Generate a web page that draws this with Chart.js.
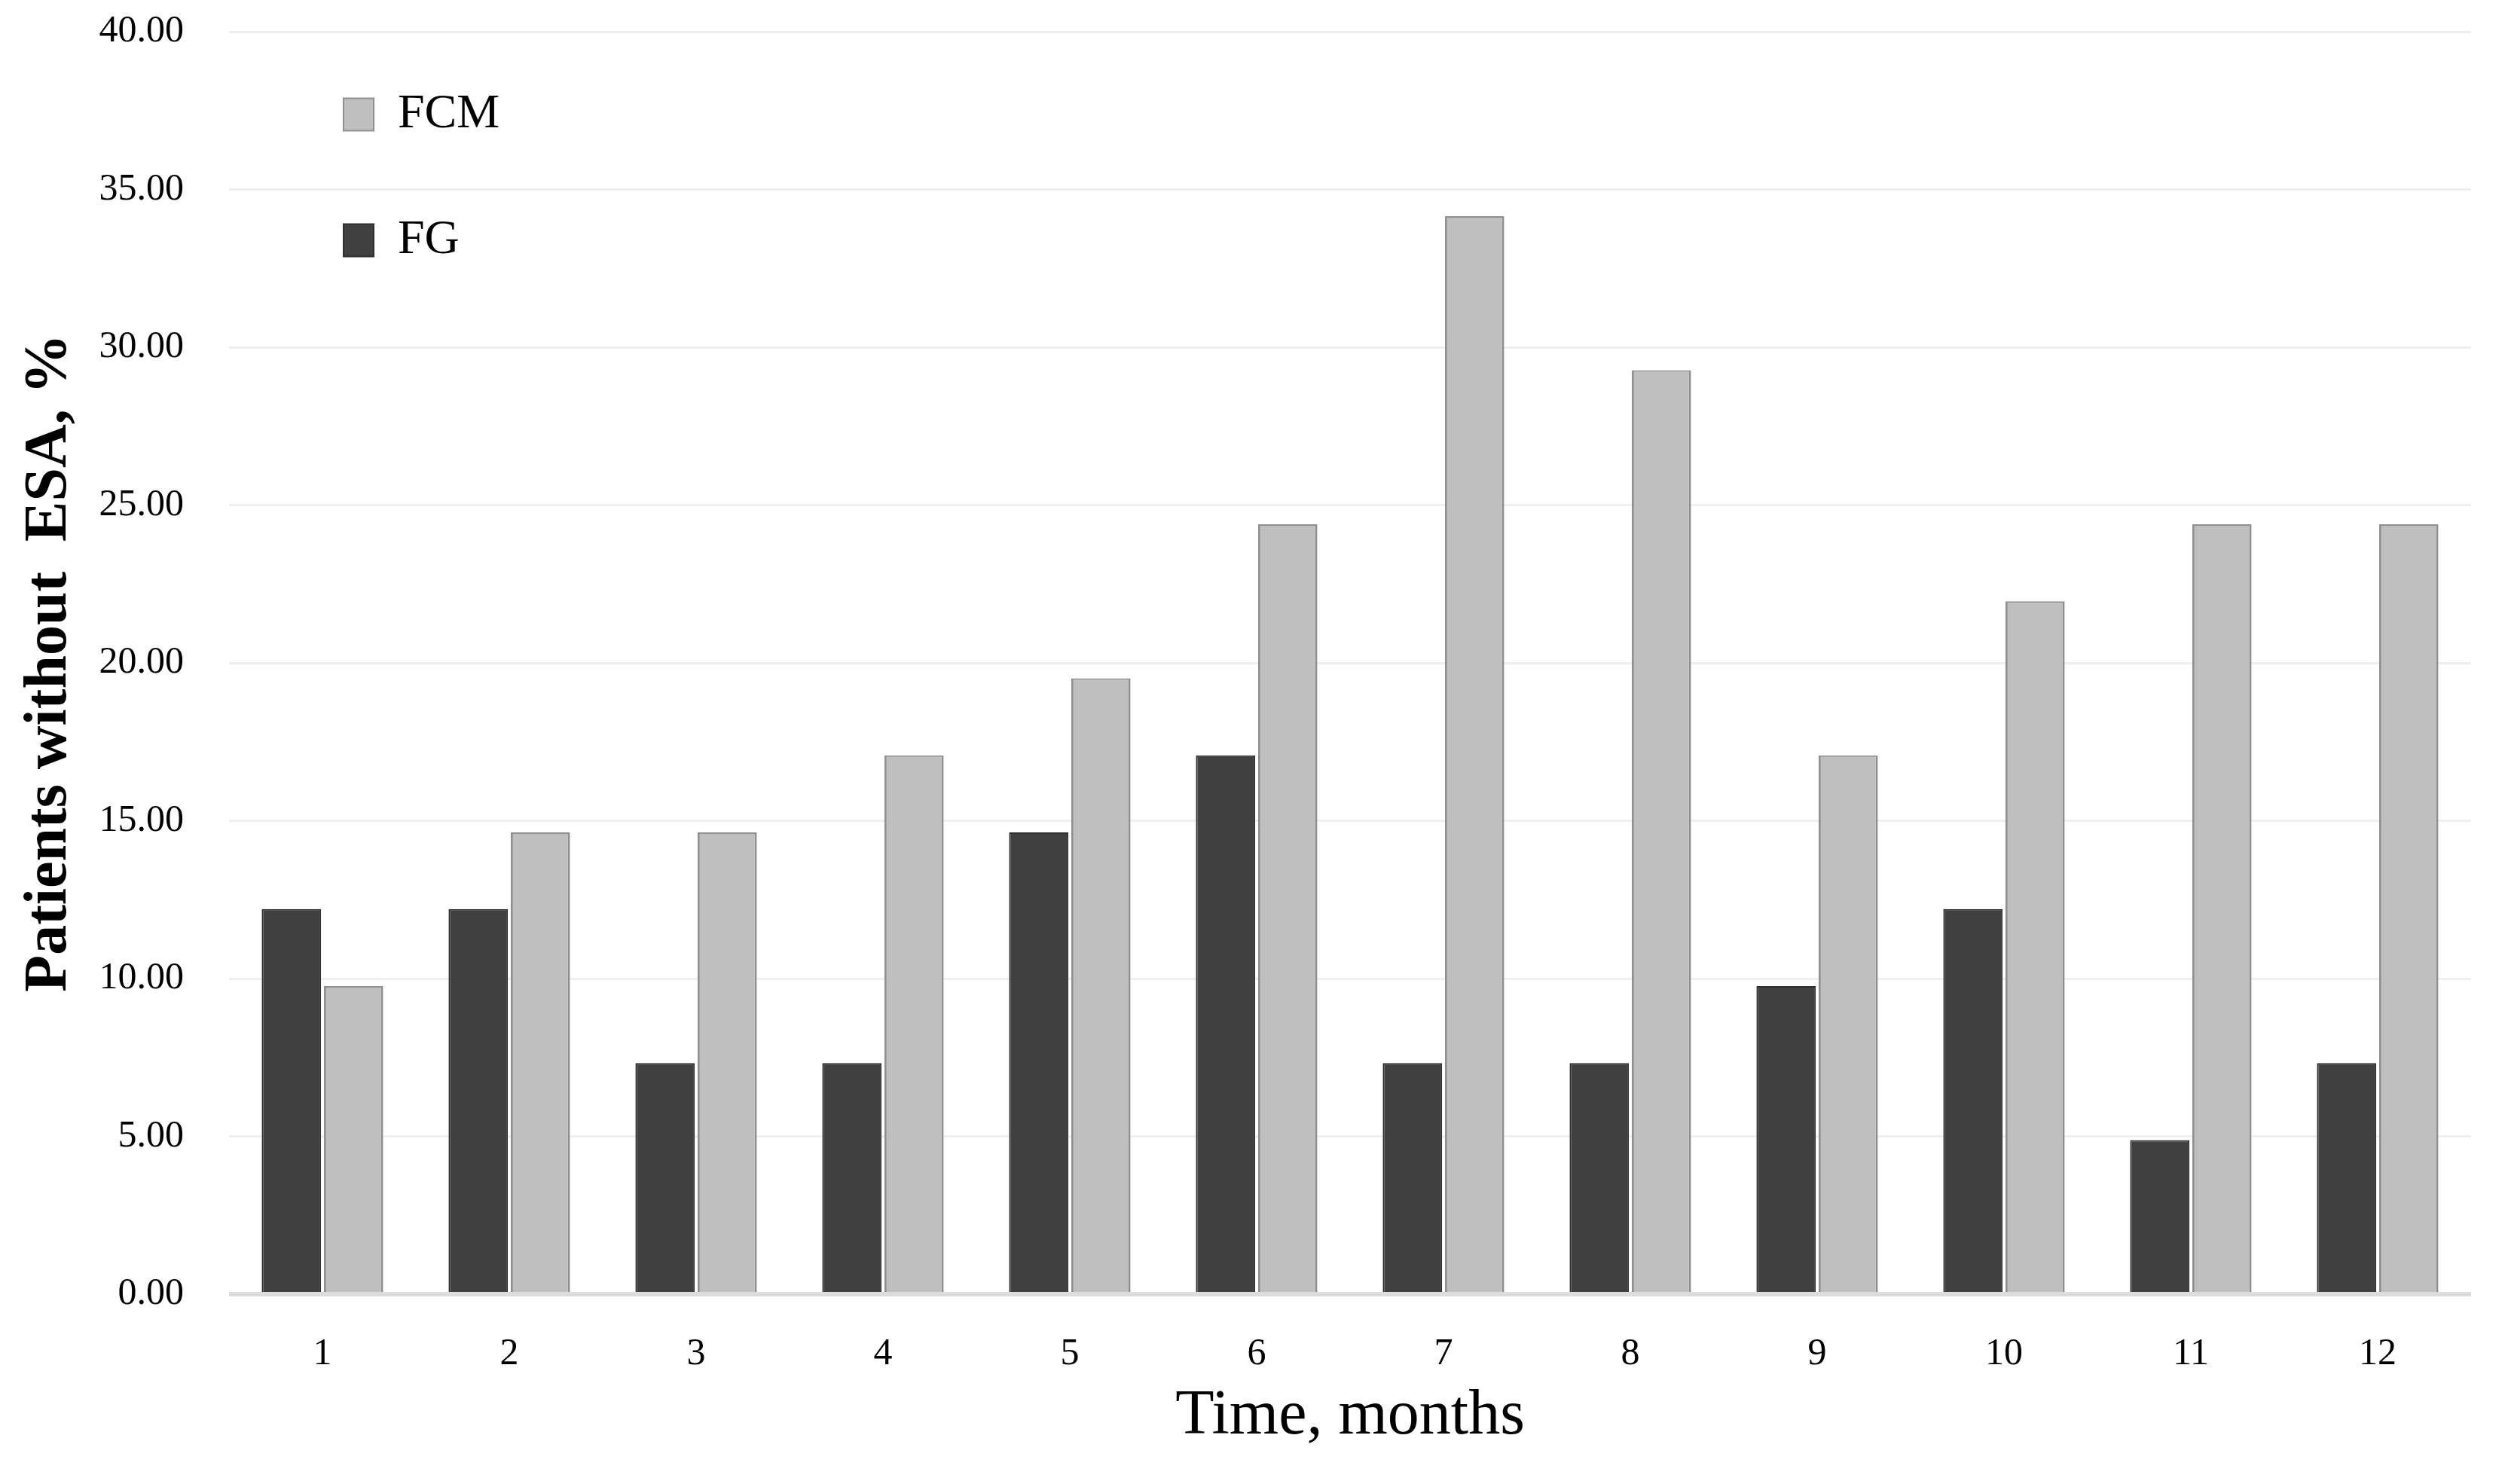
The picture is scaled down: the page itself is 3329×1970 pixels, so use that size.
<!DOCTYPE html>
<html lang="en">
<head>
    <meta charset="UTF-8">
    <title>Patients without ESA</title>
    <style>
        html, body { margin: 0; padding: 0; background: #fff; }
        #wrap { width: 3329px; height: 1970px; position: relative; }
    </style>
</head>
<body>

<div id="wrap">
    <canvas id="chartContainer"></canvas>
</div>

<script src="https://cdn.jsdelivr.net/npm/chart.js"></script>
<script>
// data (% of patients)
const months = ['1', '2', '3', '4', '5', '6', '7', '8', '9', '10', '11', '12'];
const fgValues = [12.20, 12.20, 7.32, 7.32, 14.63, 17.07, 7.32, 7.32, 9.76, 12.20, 4.88, 7.32];
const fcmValues = [9.76, 14.63, 14.63, 17.07, 19.51, 24.39, 34.15, 29.27, 17.07, 21.95, 24.39, 24.39];
const seriesNames = ['FG', 'FCM'];
const yMin = 0;
const yMax = 40;
const yStep = 5;

const SERIF = "'Liberation Serif', 'DejaVu Serif', serif";

// put the legend where it sits in the original figure
const legendShift = {
    id: 'legendShift',
    afterLayout(chart) {
        const lg = chart.legend;
        if (!lg) return;
        const h = lg.bottom - lg.top;
        lg.left += 49; lg.right += 49;
        lg.top = 17; lg.bottom = lg.top + h;
    }
};

const ctx = document.getElementById('chartContainer');
const myChart = new Chart(ctx, {
    type: 'bar',
    data: {
        labels: months,
        datasets: [{
            label: seriesNames[0],
            data: fgValues,
            backgroundColor: '#404040',
            borderColor: '#2e2e2e',
            borderWidth: 2,
            categoryPercentage: 0.665,
            barPercentage: 0.955
        }, {
            label: seriesNames[1],
            data: fcmValues,
            backgroundColor: '#bfbfbf',
            borderColor: '#8f8f8f',
            borderWidth: {left: 3, right: 3, top: 2, bottom: 0},
            categoryPercentage: 0.665,
            barPercentage: 0.955
        }]
    },
    options: {
        responsive: true,
        maintainAspectRatio: false,
        animation: false,
        layout: {
            padding: {left: 0, right: 49, top: 42, bottom: 0}
        },
        scales: {
            x: {
                grid: { display: false },
                border: { display: false },
                ticks: {
                    color: '#000',
                    padding: 42,
                    font: { family: SERIF, size: 50 }
                },
                title: {
                    display: true,
                    text: 'Time, months',
                    color: '#000',
                    font: { family: SERIF, size: 84 },
                    padding: { top: 0, bottom: 39 }
                },
                afterFit(scale) { scale.height = 252; }
            },
            y: {
                min: yMin,
                max: yMax,
                border: { display: false },
                grid: {
                    drawTicks: true,
                    tickLength: 60,
                    tickColor: 'rgba(0,0,0,0)',
                    color: c => c.tick.value === 0 ? '#dcdcdc' : '#efefef',
                    lineWidth: c => c.tick.value === 0 ? 6 : 3
                },
                ticks: {
                    stepSize: yStep,
                    color: '#000',
                    padding: 0,
                    font: { family: SERIF, size: 50 },
                    callback: v => v.toFixed(2)
                },
                title: {
                    display: true,
                    text: 'Patients without  ESA, %',
                    color: '#000',
                    font: { family: SERIF, size: 80, weight: 'bold' },
                    padding: { top: 18, bottom: 0 }
                },
                afterFit(scale) { scale.width = 304; }
            }
        },
        plugins: {
            legend: {
                display: true,
                position: 'chartArea',
                align: 'start',
                reverse: true,
                labels: {
                    color: '#000',
                    boxWidth: 40,
                    boxHeight: 43,
                    padding: 103,
                    font: { family: SERIF, size: 64 }
                }
            },
            tooltip: { enabled: false }
        }
    },
    plugins: [legendShift]
});
</script>

</body>
</html>
